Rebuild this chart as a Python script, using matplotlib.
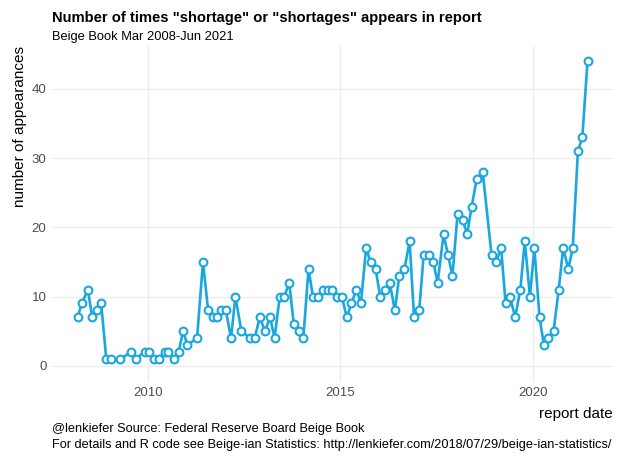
import matplotlib
matplotlib.use("Agg")
import matplotlib.pyplot as plt
import matplotlib.dates as mdates
import pandas as pd

# Beige Book reports with a nonzero count (Mar 2008 - Jun 2021)
report_dates = [
    "2008-03-05", "2008-04-16", "2008-06-11", "2008-07-23", "2008-09-03", "2008-10-15", "2008-12-03",
    "2009-01-14", "2009-04-15", "2009-07-29", "2009-09-09", "2009-12-02",
    "2010-01-13", "2010-03-03", "2010-04-14", "2010-06-09", "2010-07-14", "2010-09-08", "2010-10-20", "2010-12-01",
    "2011-01-12", "2011-04-13", "2011-06-08", "2011-07-27", "2011-09-07", "2011-10-19", "2011-11-30",
    "2012-01-11", "2012-02-29", "2012-04-11", "2012-06-06", "2012-08-29", "2012-10-10", "2012-11-28",
    "2013-01-16", "2013-03-06", "2013-04-17", "2013-06-05", "2013-07-17", "2013-09-04", "2013-10-16", "2013-12-04",
    "2014-01-15", "2014-03-05", "2014-04-16", "2014-06-04", "2014-07-16", "2014-09-03", "2014-10-15", "2014-12-03",
    "2015-01-14", "2015-03-04", "2015-04-15", "2015-06-03", "2015-07-15", "2015-09-02", "2015-10-14", "2015-12-02",
    "2016-01-13", "2016-03-02", "2016-04-13", "2016-06-01", "2016-07-13", "2016-08-31", "2016-10-19", "2016-11-30",
    "2017-01-18", "2017-03-01", "2017-04-19", "2017-05-31", "2017-07-12", "2017-09-06", "2017-10-18", "2017-11-29",
    "2018-01-17", "2018-03-07", "2018-04-18", "2018-05-30", "2018-07-18", "2018-09-12", "2018-12-05",
    "2019-01-16", "2019-03-06", "2019-04-17", "2019-05-29", "2019-07-17", "2019-09-04", "2019-10-16", "2019-12-04",
    "2020-01-15", "2020-03-04", "2020-04-15", "2020-05-27", "2020-07-15", "2020-09-02", "2020-10-14", "2020-12-02",
    "2021-01-13", "2021-03-03", "2021-04-14", "2021-06-02",
]
counts = [
    7, 9, 11, 7, 8, 9, 1,
    1, 1, 2, 1, 2,
    2, 1, 1, 2, 2, 1, 2, 5,
    3, 4, 15, 8, 7, 7, 8,
    8, 4, 10, 5, 4, 4, 7,
    5, 7, 4, 10, 10, 12, 6, 5,
    4, 14, 10, 10, 11, 11, 11, 10,
    10, 7, 9, 11, 9, 17, 15, 14,
    10, 11, 12, 8, 13, 14, 18, 7,
    8, 16, 16, 15, 12, 19, 16, 13,
    22, 21, 19, 23, 27, 28, 16,
    15, 17, 9, 10, 7, 11, 18, 10,
    17, 7, 3, 4, 5, 11, 17, 14,
    17, 31, 33, 44,
]
year_ticks = ["2010-01-01", "2015-01-01", "2020-01-01"]
y_ticks = [0, 10, 20, 30, 40]

plt.rcParams['font.family'] = ['Liberation Sans', 'DejaVu Sans']

dates = pd.to_datetime(report_dates)
col = '#1AA7E0'

fig = plt.figure(figsize=(6.29, 4.58), dpi=100)
W, H = 629, 458
ax = fig.add_axes([52/W, 1 - 381/H, 561/W, 335/H])

ax.plot(dates, counts, color=col, lw=1.9, zorder=3)
ax.plot(dates, counts, ls='none', marker='o', ms=5.6, mfc='white', mec=col, mew=1.5, zorder=4)

ax.margins(x=0.05)
ax.set_ylim(-2.2, 46.2)
ax.set_xticks(pd.to_datetime(year_ticks))
ax.xaxis.set_major_formatter(mdates.DateFormatter('%Y'))
ax.set_yticks(y_ticks)
ax.grid(True, color='#ebebeb', lw=0.9)
ax.set_axisbelow(True)
for s in ax.spines.values():
    s.set_visible(False)
ax.tick_params(length=0, labelsize=9.5, labelcolor='#4d4d4d', pad=4)

ax.set_ylabel('number of appearances', fontsize=11, loc='top', labelpad=3)
ax.set_xlabel('report date', fontsize=11, loc='right', labelpad=6)

fig.text(52/W, 1 - 22/H, 'Number of times "shortage" or "shortages" appears in report',
         fontsize=10.6, fontweight='bold', ha='left', va='baseline')
fig.text(52/W, 1 - 40/H, 'Beige Book Mar 2008-Jun 2021', fontsize=9.3, ha='left', va='baseline')
fig.text(52/W, 1 - 432/H, '@lenkiefer Source: Federal Reserve Board Beige Book', fontsize=9.2,
         ha='left', va='baseline')
fig.text(52/W, 1 - 448/H,
         'For details and R code see Beige-ian Statistics: http://lenkiefer.com/2018/07/29/beige-ian-statistics/',
         fontsize=9.2, ha='left', va='baseline')

fig.savefig('out.png', dpi=100)
